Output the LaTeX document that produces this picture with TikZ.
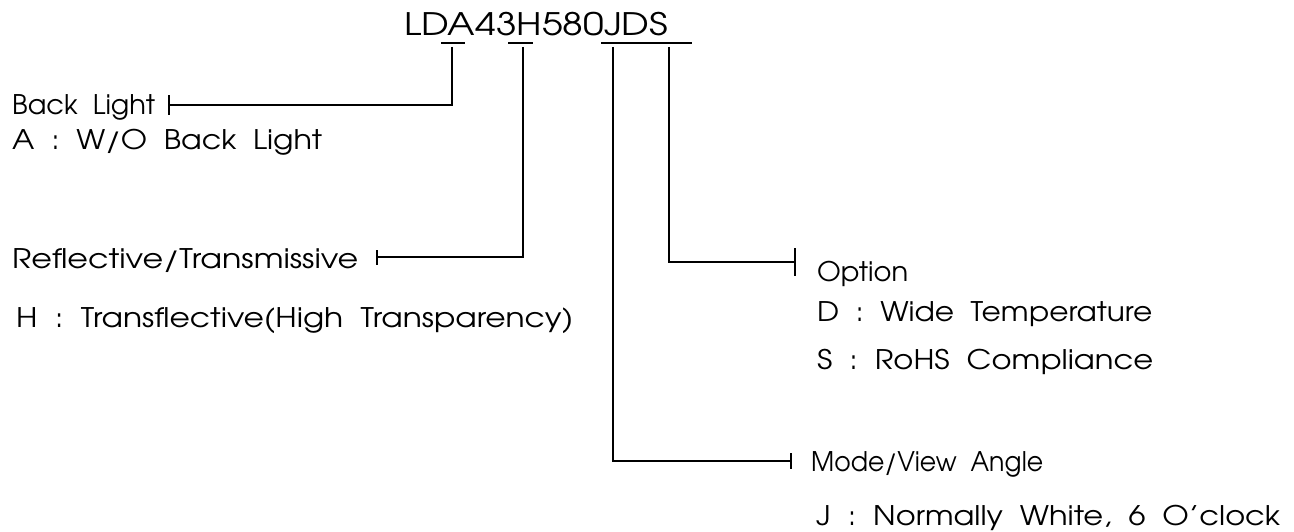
\documentclass[tikz,border=0pt]{standalone}
\usepackage{fontspec}
\setmainfont{TeX Gyre Adventor}[WordSpace=2]
\usetikzlibrary{arrows.meta}
\newcommand{\fitw}[2]{\resizebox{#1}{\height}{#2}}
\begin{document}
\begin{tikzpicture}[x=1pt,y=-1pt,
  lbl/.style={anchor=base west,inner sep=0pt,font=\fontsize{27}{27}\selectfont},
  ttl/.style={anchor=base west,inner sep=0pt,font=\fontsize{31}{31}\selectfont},
  conn/.style={line width=1.6pt},
  uline/.style={line width=1.6pt}]
\useasboundingbox (0,0) rectangle (1294,532);
% title
\node[ttl] (title) at (404,36) {\fitw{264pt}{LDA43H580JDS}};
% underlines
\coordinate (uA1) at (441,43); \coordinate (uA2) at (465,43);
\coordinate (uH1) at (508,43); \coordinate (uH2) at (533,43);
\coordinate (uJ1) at (601,43); \coordinate (uJ2) at (692,43);
\draw[uline] (uA1) -- (uA2);
\draw[uline] (uH1) -- (uH2);
\draw[uline] (uJ1) -- (uJ2);
% labels
\node[lbl] (bl)  at (12,115)  {\fitw{143pt}{Back Light}};
\node[lbl] (bla) at (12,150)  {\fitw{310pt}{A : W/O Back Light}};
\node[lbl] (rt)  at (12,269)  {\fitw{346pt}{Reflective/Transmissive}};
\node[lbl] (rth) at (16,327)  {\fitw{557pt}{H : Transflective(High Transparency)}};
\node[lbl] (op)  at (817,281) {\fitw{91pt}{Option}};
\node[lbl] (opd) at (817,321) {\fitw{335pt}{D : Wide Temperature}};
\node[lbl] (ops) at (817,369) {\fitw{336pt}{S : RoHS Compliance}};
\node[lbl] (mv)  at (811,471) {\fitw{232pt}{Mode/View Angle}};
\node[lbl] (mvj) at (816,525) {\fitw{464pt}{J : Normally White, 6 O'clock}};
% connectors
\coordinate (aTop) at (452,47);  \coordinate (aEnd) at (168,105);
\coordinate (hTop) at (523,47);  \coordinate (hEnd) at (376,257);
\coordinate (dTop) at (669,47);  \coordinate (dEnd) at (796,262);
\coordinate (jTop) at (613,47);  \coordinate (jEnd) at (792,461);
\draw[conn,-{Bar[width=20pt,line width=1.6pt]}] (aTop) |- (aEnd);
\draw[conn,-{Bar[width=15pt,line width=1.6pt]}] (hTop) |- (hEnd);
\draw[conn,-{Bar[width=28pt,line width=1.6pt]}] (dTop) |- (dEnd);
\draw[conn,-{Bar[width=16pt,line width=1.6pt]}] (jTop) |- (jEnd);
\end{tikzpicture}
\end{document}
